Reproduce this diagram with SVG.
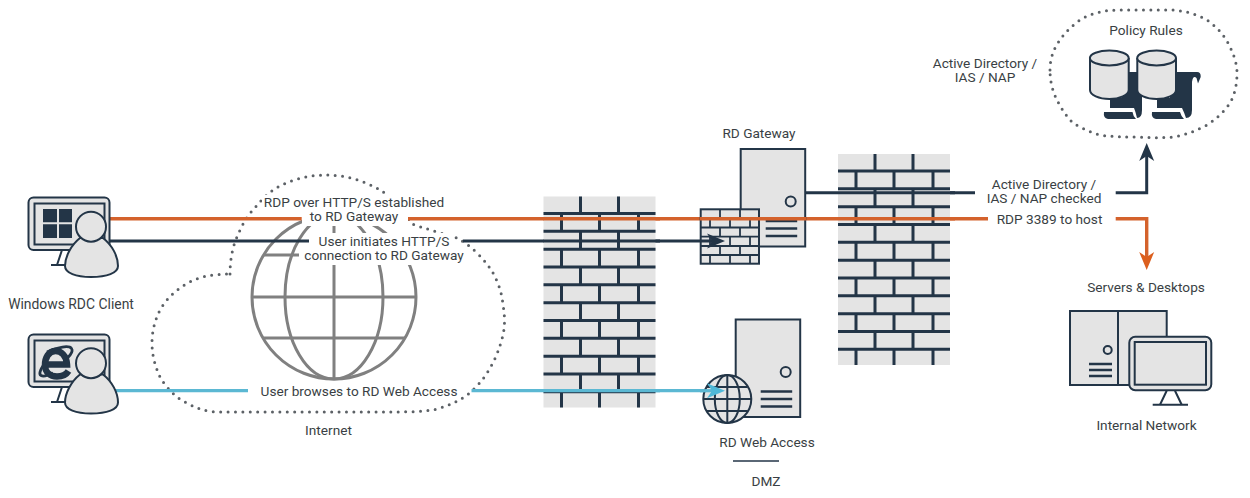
<svg xmlns="http://www.w3.org/2000/svg" xmlns:xlink="http://www.w3.org/1999/xlink" width="1250" height="498" viewBox="0 0 1250 498">
<style>
text{font-family:"Roboto","Liberation Sans",sans-serif;font-size:13.65px;fill:#3a3f44;text-anchor:middle}
.box{fill:#e4e4e4;stroke:#233547;stroke-width:2}
.thin{fill:none;stroke:#233547;stroke-width:2}
.bar{fill:none;stroke:#233547;stroke-width:2.6}
.brick{fill:none;stroke:#233547;stroke-width:3}
.dot{fill:none;stroke:#5c6166;stroke-width:3;stroke-linecap:round;stroke-dasharray:0 7.4}
.globe{fill:none;stroke:#808080;stroke-width:3}
.o{fill:none;stroke:#d4622c;stroke-width:3.4}
.d{fill:none;stroke:#233547;stroke-width:3}
.b{fill:none;stroke:#5bb8d3;stroke-width:3.2}
.k{fill:#fff;stroke:none}
</style>
<defs>
<marker id="ad" markerUnits="userSpaceOnUse" markerWidth="20" markerHeight="16" refX="12" refY="8" orient="auto"><path d="M0,0.5L18,8L0,15.5L5,8Z" fill="#233547"/></marker>
<marker id="ao" markerUnits="userSpaceOnUse" markerWidth="20" markerHeight="16" refX="12" refY="8" orient="auto"><path d="M0,0.5L18,8L0,15.5L5,8Z" fill="#dc5f1e"/></marker>
<marker id="ab" markerUnits="userSpaceOnUse" markerWidth="20" markerHeight="16" refX="12" refY="8" orient="auto"><path d="M0,0.5L18,8L0,15.5L5,8Z" fill="#4fb8d8"/></marker>
<g id="wall">
<rect x="838" y="154" width="112" height="211" fill="#e4e4e4"/>
<path class="brick" d="M838 171H950M838 188.8H950M838 206.7H950M838 224.5H950M838 242.3H950M838 260.2H950M838 278H950M838 295.8H950M838 313.7H950M838 331.5H950M838 349.3H950"/>
<path class="brick" d="M875 154V171M913 154V171M856 171V188.8M894 171V188.8M933 171V188.8M875 188.8V206.7M913 188.8V206.7M856 206.7V224.5M894 206.7V224.5M933 206.7V224.5M875 224.5V242.3M913 224.5V242.3M856 242.3V260.2M894 242.3V260.2M933 242.3V260.2M875 260.2V278M913 260.2V278M856 278V295.8M894 278V295.8M933 278V295.8M875 295.8V313.7M913 295.8V313.7M856 313.7V331.5M894 313.7V331.5M933 313.7V331.5M875 331.5V349.3M913 331.5V349.3M856 349.3V365M894 349.3V365M933 349.3V365"/>
</g>
<g id="person">
<path class="box" d="M80,238C71,245 65,257 65,266C65,273 76,277 91,277C107,277 118,273 118,266C118,256 112,245 103,238Z"/>
<circle class="box" cx="91" cy="226.7" r="15"/>
</g>
<g id="monitor">
<rect class="box" x="28.5" y="197.5" width="81" height="52.5" rx="5" stroke-width="2.2"/>
<rect class="box" x="34.5" y="203.5" width="70" height="41"/>
<path class="thin" d="M62,250L57,265M51,265H66"/>
</g>
<g id="serverbody">
<rect class="box" x="0" y="0" width="64.5" height="97.5"/>
<circle cx="50" cy="52.5" r="5" fill="#e4e4e4" stroke="#233547" stroke-width="2"/>
<path class="bar" d="M25,72H56.5M25,79.5H56.5M25,87H56.5"/>
</g>
</defs>

<g id="internet-cloud">
<g id="globe-icon">
<circle class="globe" cx="334" cy="297" r="82"/>
<ellipse class="globe" cx="334" cy="297" rx="49" ry="82"/>
<path class="globe" d="M334 215V379M252 297H416M264 338H405M264 255H405"/>
</g>
<path class="dot" d="M230,274C230,262 232,248 237,237C242,225 247,216 253,210C262,199 270,191 280,186C295,178 312,175 327,175C345,175 365,181 380,190C392,197 402,210 412,224C420,227 428,229 437,232C444,234 451,236 457,238C464,242 471,247 477,253C484,260 489,266 493,273C499,284 502,294 503,305C505,316 505,326 503,335C500,347 496,358 490,368C484,379 476,388 467,395C456,403 445,407 433,410C418,412 402,412 387,412H220C213,412 206,411 200,409C192,406 184,402 177,397C170,391 164,384 160,377C155,366 152,355 152,343C152,331 155,320 160,310C165,301 172,294 180,288C188,282 197,278 207,276C214,275 222,274 230,274"/>
</g>

<g id="connectors">
<path class="o" d="M110 218.7H301.7M408 218.7H988"/>
<path class="d" d="M110 241H309M463 241H719" marker-end="url(#ad)"/>
<path class="b" d="M115 390.7H248M471.5 390.7H719" marker-end="url(#ab)"/>
<path class="d" d="M805 192.7H975"/>
<path class="d" d="M1115.7 192.7H1146.7V149" marker-end="url(#ad)"/>
<path class="o" d="M1115.7 218.7H1146.7V264" marker-end="url(#ao)"/>
</g>

<g id="label-masks">
<rect class="k" x="262" y="195" width="184" height="22"/>
<rect class="k" x="302" y="217" width="106" height="9"/>
<rect class="k" x="309" y="233" width="143" height="17"/>
<rect class="k" x="299" y="249" width="168" height="16"/>
</g>

<g id="wall-1"><use xlink:href="#wall" transform="translate(-294.5 42.5)"/></g>
<g id="wall-2"><use xlink:href="#wall"/></g>

<g id="connectors-over">
<path class="o" d="M543 218.7H660M838 218.7H955"/>
<path class="d" d="M543 241H660M838 192.7H955"/>
<path class="b" d="M543 390.7H660"/>
</g>

<g id="windows-client">
<use xlink:href="#monitor"/>
<path d="M43,209H57V222.2H43ZM59,209H72V222.2H59ZM43,224.2H57V238H43ZM59,224.2H72V238H59Z" fill="#233547"/>
<use xlink:href="#person"/>
<text x="71" y="309" style="font-size:13.9px">Windows RDC Client</text>
</g>

<g id="browser-client">
<use xlink:href="#monitor" transform="translate(0 137)"/>
<g fill="none" stroke="#233547">
<path d="M47,364.5H67C66.5,355.5 61,351 55.5,351C48.5,351 45,358 45,365C45,372 50,376.5 57,376.5C62,376.5 66,375 68.5,371" stroke-width="6.5"/>
<path d="M47,352C58,347 69,345 71.5,348.5C74,352 68,358 64,361M47,360C41,368 38,374 41,375.5C44,377 49,375 53,373" stroke-width="2.8"/>
</g>
<use xlink:href="#person" transform="translate(0 136.5)"/>
</g>

<g id="rd-gateway">
<use xlink:href="#serverbody" transform="translate(740.7 149)"/>
<text x="759" y="138">RD Gateway</text>
<g id="gateway-firewall">
<rect class="box" x="700.7" y="209.3" width="58.3" height="54.4"/>
<path fill="none" stroke="#233547" stroke-width="1.8" d="M700.7 218.5H759M700.7 227.5H759M700.7 236.7H759M700.7 246H759M700.7 255H759M720 209.3V218.5M740 209.3V218.5M710 218.5V227.5M730 218.5V227.5M750 218.5V227.5M720 227.5V236.7M740 227.5V236.7M710 236.7V246M730 236.7V246M750 236.7V246M720 246V255M740 246V255M710 255V263.7M730 255V263.7M750 255V263.7"/>
</g>
<path class="o" d="M700 218.7H806"/>
<path class="d" d="M700 241H719" marker-end="url(#ad)"/>
</g>

<g id="rd-web-access">
<use xlink:href="#serverbody" transform="translate(735.7 319.5)"/>
<g fill="#e4e4e4" stroke="#233547" stroke-width="2">
<circle cx="727.3" cy="399" r="24"/>
<ellipse cx="727.3" cy="399" rx="12.5" ry="24" fill="none"/>
<path d="M727.3 375V423M703.3 399H751.3M707 387H747.5M707 411H747.5" fill="none"/>
</g>
<path class="b" d="M700 390.7H719" marker-end="url(#ab)"/>
<text x="767" y="447">RD Web Access</text>
<path d="M733 461H779" stroke="#233547" stroke-width="1.5" fill="none"/>
<text x="766" y="486">DMZ</text>
</g>

<g id="policy-rules">
<path class="dot" d="M1050,70C1050,58 1054,48 1060,40C1066,31 1074,24 1083,18C1095,12 1107,10 1120,10H1173C1185,11 1197,14 1207,20C1217,27 1225,36 1230,47C1234,55 1237,64 1237,73C1237,84 1235,94 1230,103C1224,112 1216,119 1207,125C1196,131 1185,135 1173,137C1162,138 1151,138 1140,137C1126,137 1113,137 1100,135C1090,132 1081,128 1073,123C1066,116 1061,108 1057,100C1052,90 1050,80 1050,70Z"/>
<g fill="#233547">
<path d="M1122,72H1142V110Q1142,118 1137,118Q1135,110 1134,108H1110V98H1122Z"/>
<path d="M1104,112H1132.5Q1133,116 1136,119H1108Q1103,118 1104,112Z"/>
<path d="M1170,72H1197Q1201,72 1200.7,77L1198,83.5L1196.5,78Q1193,75 1192,82V110Q1192,118 1186,118Q1184,112 1182,108H1157V98H1170Z"/>
<path d="M1152,112H1180Q1181,116 1184,119H1156Q1151,118 1152,112Z"/>
</g>
<g id="cylinder-1">
<path class="box" d="M1090,58V90C1090,95 1099,99 1109.3,99C1119.6,99 1128.7,95 1128.7,90V58"/>
<ellipse class="box" cx="1109.3" cy="58" rx="19.4" ry="7.5"/>
</g>
<use xlink:href="#cylinder-1" transform="translate(47.3 0)"/>
<text x="1146" y="35">Policy Rules</text>
</g>
<text id="label-ad"><tspan x="985" y="67.5">Active Directory /</tspan><tspan x="985" y="81.5">IAS / NAP</tspan></text>
<text id="label-ad-checked"><tspan x="1044" y="188.5">Active Directory /</tspan><tspan x="1044" y="202.5">IAS / NAP checked</tspan></text>
<text x="1049.5" y="224">RDP 3389 to host</text>

<g id="labels-internet">
<text><tspan x="354" y="207">RDP over HTTP/S established</tspan><tspan x="354" y="221">to RD Gateway</tspan></text>
<text><tspan x="384" y="246">User initiates HTTP/S</tspan><tspan x="384" y="260">connection to RD Gateway</tspan></text>
<text x="359" y="396">User browses to RD Web Access</text>
<text x="328.5" y="435">Internet</text>
</g>

<g id="internal-network">
<text x="1146" y="292">Servers &amp; Desktops</text>
<rect class="box" x="1070" y="311" width="96.7" height="74"/>
<path class="thin" d="M1118 311V385"/>
<circle cx="1107.7" cy="350" r="4" fill="#e4e4e4" stroke="#233547" stroke-width="2"/>
<path class="bar" d="M1089 364H1112M1089 370H1112M1089 376H1112"/>
<path class="thin" d="M1166.7,390.7L1160,404.7M1175,390.7L1181.7,404.7"/>
<path class="thin" d="M1152.7,404.7H1188"/>
<rect class="box" x="1129.3" y="336.7" width="82" height="53.5" rx="6"/>
<rect class="box" x="1134.7" y="342" width="71.3" height="42.7"/>
<text x="1146.5" y="430">Internal Network</text>
</g>
</svg>
